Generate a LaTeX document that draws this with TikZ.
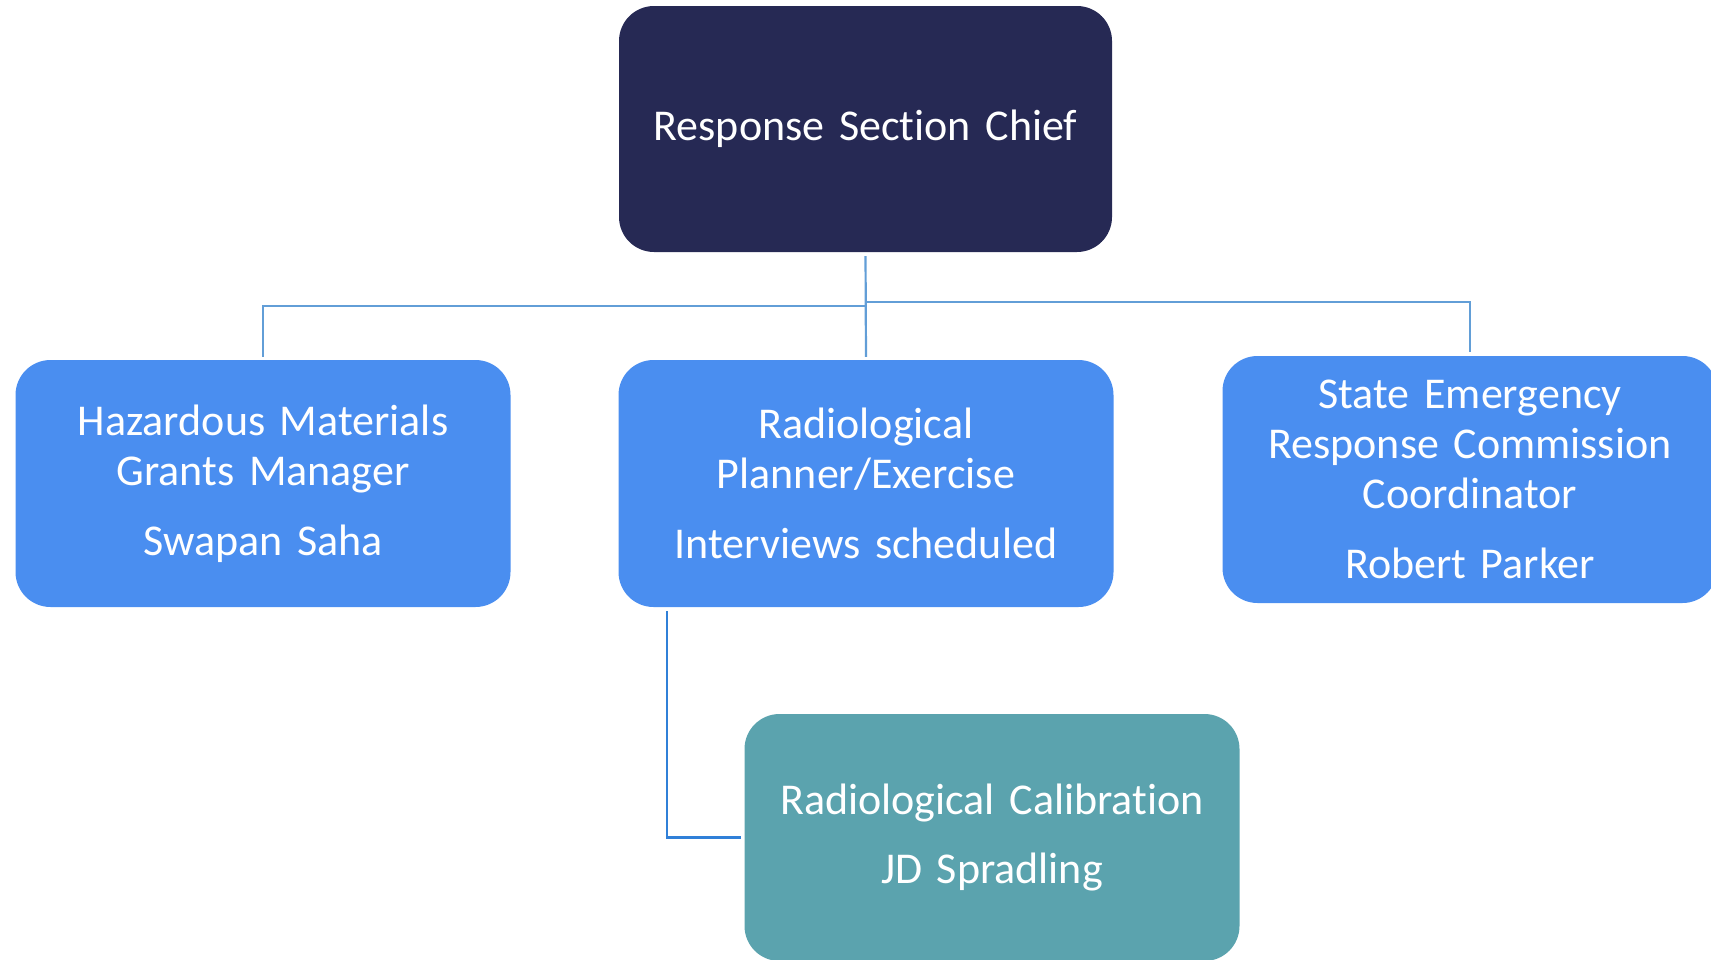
\documentclass[tikz,border=0pt]{standalone}
\usepackage{fontspec}
\setmainfont[Ligatures={NoCommon}]{Carlito}
\definecolor{navy}{RGB}{38,41,84}
\definecolor{boxblue}{RGB}{74,142,240}
\definecolor{teal}{RGB}{91,163,174}
\definecolor{connblue}{RGB}{98,158,215}
\definecolor{connblue2}{RGB}{48,128,216}
\tikzset{
  orgbox/.style={rounded corners=35pt, minimum width=495pt, minimum height=247pt,
    text width=480pt, align=center, text=white, inner sep=0pt,
    font=\fontsize{44}{50}\selectfont},
  conn/.style={draw=connblue, line width=2.2pt},
  conn2/.style={draw=connblue2, line width=2.2pt},
}
\begin{document}
\begin{tikzpicture}[x=1pt,y=-1pt]
\useasboundingbox (0,0) rectangle (1711,959);
\node[orgbox, fill=navy, minimum width=493pt, minimum height=246pt] (top) at (865.5,129) {\raisebox{-3pt}{Response Section Chief}};
\node[orgbox, fill=boxblue] (left) at (263,483.5) {Hazardous Materials\\Grants Manager\\[20pt]Swapan Saha};
\node[orgbox, fill=boxblue] (mid) at (866,483.5) {Radiological\\Planner/Exercise\\[20pt]Interviews scheduled};
\node[orgbox, fill=boxblue] (right) at (1470,479.5) {State Emergency\\Response Commission\\Coordinator\\[20pt]Robert Parker};
\node[orgbox, fill=teal] (bot) at (992,837.5) {Radiological Calibration\\[19pt]JD Spradling};
\coordinate (jl) at (866,306);
\coordinate (jr) at (866,302);
\draw[conn, shorten <=4pt, shorten >=3pt] (top.south) -- (mid.north);
\draw[conn, shorten >=3pt] (jl) -| (left.north);
\draw[conn, shorten >=4pt] (jr) -| (right.north);
\draw[conn2, shorten <=4pt, shorten >=3pt] ([xshift=-199pt]mid.south) |- (bot.west);
\end{tikzpicture}
\end{document}
